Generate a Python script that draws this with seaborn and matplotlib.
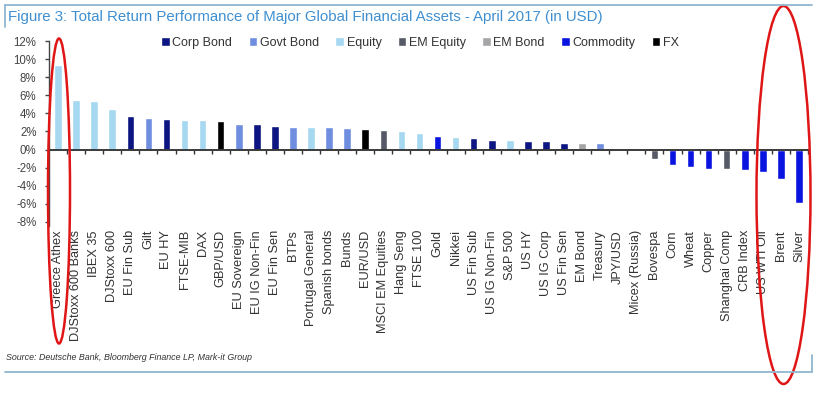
import matplotlib
matplotlib.use("Agg")
import matplotlib.pyplot as plt
import seaborn as sns
import pandas as pd
import numpy as np
from matplotlib.patches import Ellipse
from matplotlib.lines import Line2D
from matplotlib.ticker import FuncFormatter

assets = ["Greece Athex", "DJStoxx 600 Banks", "IBEX 35", "DJStoxx 600", "EU Fin Sub", "Gilt",
          "EU HY", "FTSE-MIB", "DAX", "GBP/USD", "EU Sovereign", "EU IG Non-Fin", "EU Fin Sen",
          "BTPs", "Portugal General", "Spanish bonds", "Bunds", "EUR/USD", "MSCI EM Equities",
          "Hang Seng", "FTSE 100", "Gold", "Nikkei", "US Fin Sub", "US IG Non-Fin", "S&P 500",
          "US HY", "US IG Corp", "US Fin Sen", "EM Bond", "Treasury", "JPY/USD", "Micex (Russia)",
          "Bovespa", "Corn", "Wheat", "Copper", "Shanghai Comp", "CRB Index", "US WTI Oil",
          "Brent", "Silver"]
returns = [9.4, 5.5, 5.4, 4.5, 3.7, 3.5, 3.4, 3.3, 3.3, 3.2, 2.85, 2.8, 2.6,
           2.5, 2.5, 2.45, 2.4, 2.3, 2.2, 2.0, 1.8, 1.5, 1.35, 1.25, 1.0, 1.0,
           0.95, 0.9, 0.75, 0.75, 0.7, 0.05, -0.1,
           -1.1, -1.75, -1.9, -2.1, -2.2, -2.3, -2.5, -3.25, -5.9]
asset_class = ["Equity", "Equity", "Equity", "Equity", "Corp Bond", "Govt Bond",
               "Corp Bond", "Equity", "Equity", "FX", "Govt Bond", "Corp Bond", "Corp Bond",
               "Govt Bond", "Equity", "Govt Bond", "Govt Bond", "FX", "EM Equity",
               "Equity", "Equity", "Commodity", "Equity", "Corp Bond", "Corp Bond", "Equity",
               "Corp Bond", "Corp Bond", "Corp Bond", "EM Bond", "Govt Bond", "FX", "EM Equity",
               "EM Equity", "Commodity", "Commodity", "Commodity", "EM Equity", "Commodity", "Commodity",
               "Commodity", "Commodity"]
classes = ["Corp Bond", "Govt Bond", "Equity", "EM Equity", "EM Bond", "Commodity", "FX"]
class_colors = ["#0c1582", "#6f8ee0", "#a6d8f2", "#555a66", "#a5a5a8", "#0a14e0", "#000000"]
yticks = [-8, -6, -4, -2, 0, 2, 4, 6, 8, 10, 12]

df = pd.DataFrame({"asset": assets, "ret": returns, "cls": asset_class})

sns.set_theme(style="white")
plt.rcParams["font.family"] = ["Liberation Sans", "DejaVu Sans"]

W, H = 827, 393
fig = plt.figure(figsize=(W / 100, H / 100), dpi=100)
ax = fig.add_axes([49 / W, 1 - 225.5 / H, (808 - 49) / W, (225.5 - 41) / H])

sns.barplot(data=df, x="asset", y="ret", hue="cls", order=assets, hue_order=classes,
            palette=dict(zip(classes, class_colors)), dodge=False, width=0.42,
            saturation=1, ax=ax, legend=True)

ax.set_xlim(-0.5, len(assets) - 0.5)
ax.set_ylim(-8.4, 12)
ax.set_yticks(yticks)
ax.yaxis.set_major_formatter(FuncFormatter(lambda v, p: f"{v:.0f}%"))
ax.set_xlabel("")
ax.set_ylabel("")

for s in ["top", "right"]:
    ax.spines[s].set_visible(False)
ax.spines["left"].set_color("#444444")
ax.spines["left"].set_linewidth(1.0)
ax.spines["bottom"].set_position(("data", 0))
ax.spines["bottom"].set_color("#3a3a3a")
ax.spines["bottom"].set_linewidth(1.4)

ax.tick_params(axis="y", which="major", direction="out", length=3, width=1,
               color="#444444", labelsize=8.3, labelcolor="#444444", pad=6, left=True)
ax.set_xticks(np.arange(len(assets)) + 0.5, minor=True)
ax.tick_params(axis="x", which="minor", direction="out", length=3, width=1,
               color="#333333", bottom=True)
ax.tick_params(axis="x", which="major", length=0, pad=58, labelsize=9.2,
               labelcolor="#333333", labelrotation=90)

leg = ax.legend(loc="center", bbox_to_anchor=(420 / W, 1 - 43 / H),
                bbox_transform=fig.transFigure, ncol=7, frameon=False,
                handlelength=0.7, handleheight=0.7, handletextpad=0.2,
                columnspacing=1.3, fontsize=9)
for t in leg.get_texts():
    t.set_color("#333333")

# title and frame
fig.text(8 / W, 1 - 17 / H, "Figure 3: Total Return Performance of Major Global Financial Assets - April 2017 (in USD)",
         color="#3f8fd0", fontsize=10.8, ha="left", va="center")
fig.text(6 / W, 1 - 357 / H, "Source: Deutsche Bank, Bloomberg Finance LP, Mark-it Group",
         color="#333333", fontsize=6.4, style="italic", ha="left", va="center",
         family=["Liberation Sans Narrow", "Liberation Sans", "DejaVu Sans"])
fc = "#8fb8d0"
fig.add_artist(Line2D([5 / W, 812 / W], [1 - 5 / H, 1 - 5 / H], color=fc, lw=1.3, transform=fig.transFigure))
fig.add_artist(Line2D([5 / W, 5 / W], [1 - 5 / H, 1 - 27 / H], color=fc, lw=1.3, transform=fig.transFigure))
fig.add_artist(Line2D([5 / W, 812 / W], [1 - 372 / H, 1 - 372 / H], color=fc, lw=1.3, transform=fig.transFigure))
fig.add_artist(Line2D([812 / W, 812 / W], [1 - 355 / H, 1 - 372 / H], color=fc, lw=1.3, transform=fig.transFigure))

# red highlight ellipses
fig.add_artist(Ellipse((59 / W, 1 - 191 / H), 22 / W, 305 / H, fill=False, ec="#e01515", lw=1.8,
                       transform=fig.transFigure))
fig.add_artist(Ellipse((783.5 / W, 1 - 195 / H), 54 / W, 378 / H, fill=False, ec="#e01515", lw=1.8,
                       transform=fig.transFigure))

fig.savefig("out.png", dpi=100)
